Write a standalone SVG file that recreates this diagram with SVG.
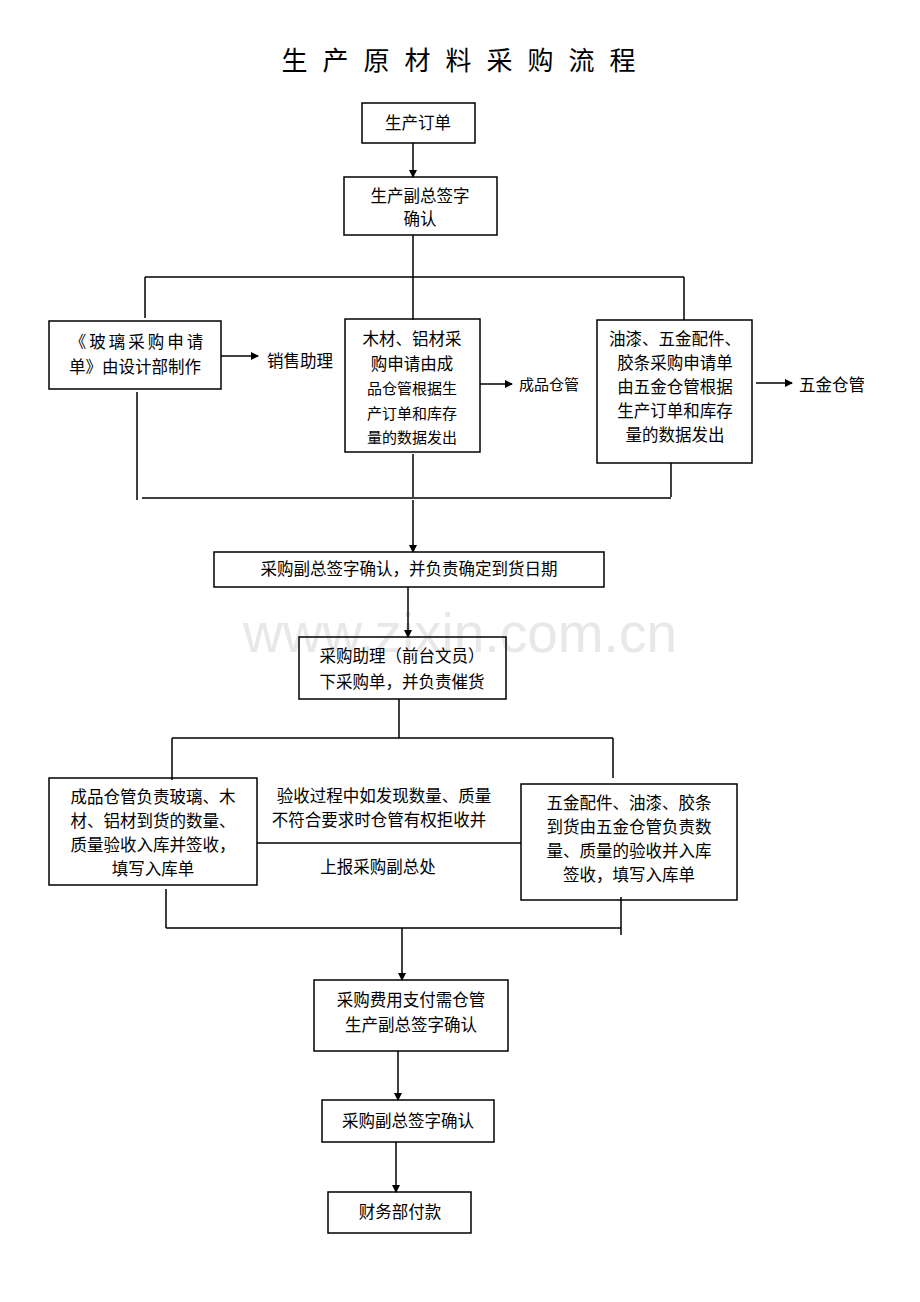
<svg xmlns="http://www.w3.org/2000/svg" width="920" height="1302" viewBox="0 0 920 1302">
<style>
text{font-family:"Noto Sans CJK SC","Noto Sans CJK JP",sans-serif;fill:#000;text-anchor:middle}
.b{fill:none;stroke:#000;stroke-width:1.5}
.l{stroke:#000;stroke-width:1.5;fill:none}
.a{stroke:#000;stroke-width:1.5;fill:none;marker-end:url(#ar)}
.t{font-size:16.5px}
</style>
<defs><marker id="ar" markerWidth="8" markerHeight="8" refX="7" refY="4" orient="auto" markerUnits="userSpaceOnUse"><path d="M0,0L8,4L0,8z" fill="#000"/></marker></defs>
<rect width="920" height="1302" fill="#fff"/>
<text x="460" y="652" style="font-family:'Liberation Sans',sans-serif;font-size:55px;fill:#e8e8e8">www.zixin.com.cn</text>
<text x="466" y="70" style="font-size:26px;letter-spacing:15px">生产原材料采购流程</text>
<g id="connectors">
<path class="a" d="M413,143V177"/>
<path class="l" d="M413,235V277M145,277H684M145,277V318M413,277V320M684,277V320"/>
<path class="a" d="M221,356H258"/><path class="a" d="M480,384H512"/><path class="a" d="M756,383H792"/>
<path class="l" d="M137,392V500M413,454V497M671,463V497M142,498H671"/>
<path class="a" d="M413,500V552"/>
<path class="a" d="M408,587V637"/>
<path class="l" d="M399,699V738M172,738H613M172,738V780M613,738V778M257,843H521"/>
<path class="l" d="M166,889V928M621,897V935M166,928H621"/>
<path class="a" d="M402,928V980"/>
<path class="a" d="M398,1051V1100"/>
<path class="a" d="M396,1142V1192"/>
</g>
<g id="n1"><rect class="b" x="362" y="103" width="113" height="40"/><text class="t" x="418" y="129">生产订单</text></g>
<g id="n2"><rect class="b" x="344" y="177" width="153" height="58"/><text class="t" x="420" y="202">生产副总签字</text><text class="t" x="420" y="225">确认</text></g>
<g id="n3"><rect class="b" x="49" y="321" width="172" height="68"/><text class="t" x="138" y="348" style="letter-spacing:3px">《玻璃采购申请</text><text class="t" x="135" y="373">单》由设计部制作</text></g>
<g id="n3b"><text class="t" x="300" y="367">销售助理</text></g>
<g id="n4"><rect class="b" x="345" y="319" width="135" height="133"/><text class="t" x="412" y="345">木材、铝材采</text><text class="t" x="412" y="370">购申请由成</text><text class="t" x="412" y="394" style="font-size:15px">品仓管根据生</text><text class="t" x="412" y="419" style="font-size:15px">产订单和库存</text><text class="t" x="412" y="443" style="font-size:15px">量的数据发出</text></g>
<g id="n4b"><text x="549" y="390" style="font-size:15px">成品仓管</text></g>
<g id="n5"><rect class="b" x="597" y="320" width="155" height="143"/><text class="t" x="675" y="345">油漆、五金配件、</text><text class="t" x="675" y="369">胶条采购申请单</text><text class="t" x="675" y="393">由五金仓管根据</text><text class="t" x="675" y="417">生产订单和库存</text><text class="t" x="675" y="441">量的数据发出</text></g>
<g id="n5b"><text class="t" x="832" y="391">五金仓管</text></g>
<g id="n6"><rect class="b" x="214" y="552" width="390" height="35"/><text class="t" x="409" y="575">采购副总签字确认，并负责确定到货日期</text></g>
<g id="n7"><rect class="b" x="299" y="637" width="207" height="62"/><text class="t" x="402" y="662">采购助理（前台文员）</text><text class="t" x="402" y="688">下采购单，并负责催货</text></g>
<g id="n8"><rect class="b" x="49" y="778" width="208" height="107"/><text class="t" x="153" y="803">成品仓管负责玻璃、木</text><text class="t" x="153" y="827">材、铝材到货的数量、</text><text class="t" x="153" y="851">质量验收入库并签收，</text><text class="t" x="153" y="875">填写入库单</text></g>
<g id="n8b"><text class="t" x="384" y="802">验收过程中如发现数量、质量</text><text class="t" x="379" y="826">不符合要求时仓管有权拒收并</text><text class="t" x="378" y="873">上报采购副总处</text></g>
<g id="n9"><rect class="b" x="521" y="784" width="216" height="116"/><text class="t" x="629" y="809">五金配件、油漆、胶条</text><text class="t" x="629" y="833">到货由五金仓管负责数</text><text class="t" x="629" y="857">量、质量的验收并入库</text><text class="t" x="629" y="881">签收，填写入库单</text></g>
<g id="n10"><rect class="b" x="314" y="980" width="194" height="71"/><text class="t" x="411" y="1006">采购费用支付需仓管</text><text class="t" x="411" y="1031">生产副总签字确认</text></g>
<g id="n11"><rect class="b" x="322" y="1100" width="172" height="42"/><text class="t" x="408" y="1127">采购副总签字确认</text></g>
<g id="n12"><rect class="b" x="328" y="1192" width="143" height="41"/><text class="t" x="400" y="1218">财务部付款</text></g>
</svg>
